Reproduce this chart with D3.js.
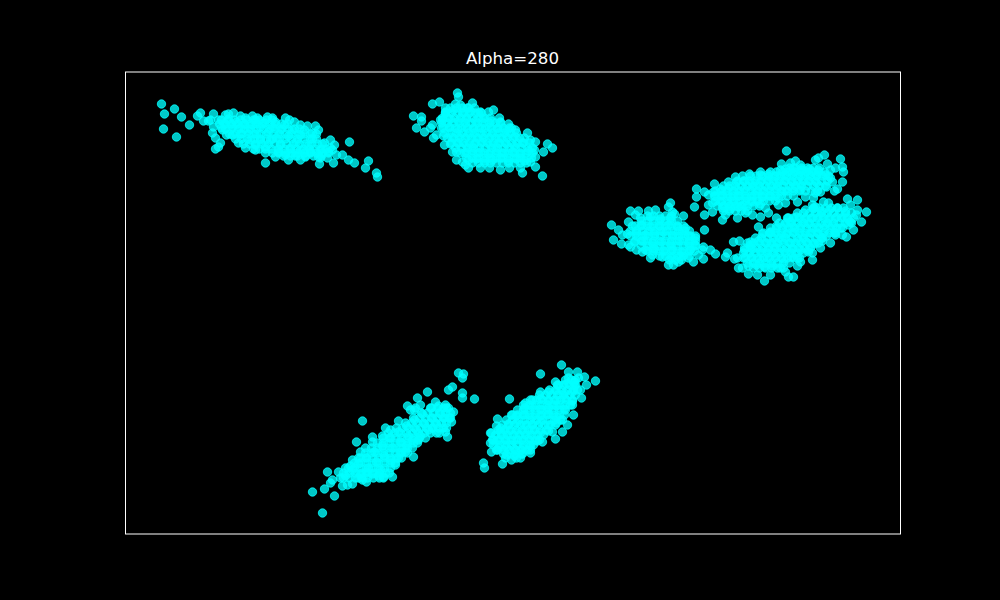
<!DOCTYPE html>
<html>
<head>
<meta charset="utf-8">
<script src="https://cdn.jsdelivr.net/npm/d3@7"></script>
<style>html,body{margin:0;padding:0;background:#000;overflow:hidden}</style>
</head>
<body>
<svg id="chart" width="1000" height="600"></svg>
<script>
const titleText = "Alpha=280";
const clusterA = [[36,430],[49,425],[39,420],[56,417],[64,409],[38,405],[51,397],[75,421],[72,418],[78,413],[88,420],[83,413],[87,401],[90,396],[95,391],[90,385],[93,387],[101,399],[113,391],[140,371],[163,374],[194,370],[209,389],[224,392],[243,373],[240,366],[251,361],[252,357],[229,371],[223,374],[217,379],[208,371],[202,376],[190,408],[182,408],[187,401],[169,412],[164,414],[147,416],[142,417],[132,416],[108,421],[100,419],
[93,414],[99,410],[103,415],[107,407],[111,412],[115,406],[119,410],[123,403],[127,409],[131,400],[135,407],[139,411],[143,402],[147,407],[151,396],[155,404],[159,409],[163,398],[167,404],[171,392],[175,399],[179,404],[183,388],[187,395],[191,400],[195,384],[199,391],[203,382],[175,384],[165,386],[155,389],[145,394],[135,394],[125,394],[115,400],[120,416],[130,414],[150,412],[185,382],[170,378],[153,382],[160,379],[180,377],[193,377],[205,386],[140,387],[130,389],[97,404],[107,399],
[85,414],[88,407],[96,406],[103,420],[115,418],[127,418],[160,416],[175,409],[193,404],[205,394],[207,384],[211,379],[195,376],[175,374],[150,377],[130,384],[120,386]];
const clusterB = [[332,441],[333,437],[314,432],[307,430],[330,430],[288,418],[296,417],[296,413],[291,406],[299,402],[305,406],[308,396],[368,424],[374,416],[383,410],[386,406],[402,401],[410,392],[422,390],[427,386],[418,382],[410,377],[410,367],[417,358],[397,361],[384,366],[364,366],[343,366],[337,372],[315,414],[320,421],[347,431],[355,422],[342,426],
[320,422],[328,424],[337,421],[345,423],[353,421],[317,414],[325,415],[333,413],[341,415],[350,413],[358,415],[366,413],
[316,406],[324,407],[332,405],[340,407],[348,405],[356,406],[364,407],[372,405],[380,404],
[318,398],[326,397],[334,399],[342,398],[350,397],[358,399],[366,398],[374,396],[382,399],[390,397],
[325,390],[333,391],[341,389],[349,390],[357,392],[365,389],[373,391],[381,390],[389,388],[397,391],
[331,382],[339,381],[347,383],[355,382],[363,380],[371,383],[379,381],[387,382],[395,380],[403,383],
[343,374],[351,375],[359,373],[367,374],[375,376],[383,373],[391,375],[399,373],
[307,409],[311,399],[319,389],[327,382],[331,374],[340,369],[355,366],[375,364],[395,366],[405,372],[409,384],[405,394],[390,404],[375,412],[363,422],[335,429],[320,426]];
const clusterC = [[545,331],[543,327],[505,323],[549,320],[558,318],[486,309],[493,304],[488,294],[496,290],[505,287],[579,304],[590,280],[585,284],[578,287],[578,275],[568,272],[573,279],[548,269],[553,272],[517,282],[527,279],[513,323],[523,323],
[515,316],[525,317],[535,315],[545,316],
[507,308],[516,309],[525,307],[534,308],[543,309],[552,307],
[502,300],[511,301],[520,299],[529,300],[538,302],[547,299],[556,300],[563,298],
[509,292],[518,293],[527,291],[536,292],[545,290],[554,293],[563,291],[570,289],
[520,284],[529,285],[538,283],[547,284],[556,282],[565,284],
[537,277],[546,276],[555,278],
[497,299],[503,312],[510,319],[530,324],[547,322],[560,306],[570,296],[577,284],[563,276],[543,269],[525,276],[511,284],[503,289]];
const clusterD = [[661,383],[656,370],[690,374],[693,376],[699,379],[715,375],[702,370],[710,366],[717,367],[718,362],[717,352],[712,345],[709,343],[705,356],[695,342],[571,345],[579,342],[571,337],[569,327],[579,319],[589,350],[588,342],[597,314],[612,316],[603,352],[624,360],[617,358],[627,319],[635,317],[643,321],[653,329],[672,332],[670,373],[665,371],
[587,331],[595,332],[603,330],[611,331],[619,329],[627,332],[635,330],
[589,338],[597,339],[605,337],[613,338],[621,336],[629,339],[637,337],[645,338],[653,336],
[595,345],[603,346],[611,344],[619,345],[627,347],[635,344],[643,346],[651,345],[659,343],[667,346],[675,344],
[611,352],[619,353],[627,351],[635,352],[643,354],[651,351],[659,353],[667,352],[675,350],[683,353],[691,351],
[635,359],[643,360],[651,358],[659,359],[667,361],[675,358],[683,360],[691,359],
[660,365],[668,366],[676,364],[684,365],[693,364],
[597,326],[605,325],[613,327],
[583,339],[583,329],[587,322],[600,319],[620,321],[610,357],[635,362],[655,364],[675,369],[700,359],[705,364],[707,352],[701,347],[690,341],[680,337],[660,331],[640,326]];
const clusterE = [[639,253],[668,257],[663,257],[632,259],[617,266],[609,275],[602,281],[600,277],[608,292],[614,293],[633,307],[651,316],[687,274],[687,281],[672,268],[722,335],[732,334],[741,322],[732,324],[736,312],[728,304],[721,297],[705,291],[695,286],[698,332],[688,336],[687,329],
[623,268],[631,269],[639,267],[647,268],[655,266],
[618,276],[626,277],[634,275],[642,276],[650,278],[658,275],[666,277],[674,276],
[619,284],[627,285],[635,283],[643,284],[651,286],[659,283],[667,285],[675,284],[683,282],
[625,292],[633,293],[641,291],[649,292],[657,294],[665,291],[673,293],[681,292],[689,290],[697,293],
[637,300],[645,301],[653,299],[661,300],[669,302],[677,299],[685,301],[693,300],[701,298],[709,301],[717,299],
[651,308],[659,309],[667,307],[675,308],[683,310],[691,307],[699,309],[707,308],[715,306],[723,309],
[663,316],[671,317],[679,315],[687,316],[695,318],[703,315],[711,317],[719,316],
[680,324],[688,325],[696,323],[704,324],[712,326],[720,323],
[612,276],[613,266],[623,260],[645,259],[660,262],[675,272],[683,284],[697,296],[710,299],[725,312],[731,319],[725,329],[703,331],[690,327],[665,312],[645,302],[625,289]];
const clusterF = [[197,21],[187,42],[209,38],[199,45],[202,62],[207,54],[205,51],[217,48],[237,113],[231,92],[282,128],[292,136],[302,142],[349,135],[337,141],[337,136],[333,161],[338,160],[337,156],[327,147],[323,144],[322,97],[321,106],[314,101],[288,77],[267,57],[258,57],[241,52],[227,50],[290,126],[325,116],
[220,58],[227,64],[233,70],[235,60],[241,76],[243,66],[249,82],[251,72],[247,60],[257,88],[259,78],[255,64],[265,96],[267,86],[265,74],[273,102],[275,92],[275,82],[281,108],[283,98],[281,88],[289,114],[291,104],[287,94],[297,120],[299,110],[295,98],[305,126],[307,116],[303,104],[313,128],[315,120],[311,110],[321,126],[319,116],[265,104],[247,92],[235,82],[227,74],[241,62],[233,56],[273,76],[220,66],[257,98],[289,124],
[215,56],[222,49],[213,62],[225,68],[233,76],[240,86],[247,97],[260,106],[273,113],[285,124],[295,129],[310,132],[320,129],[328,122],[326,112],[320,102],[307,106],[293,94],[280,82],[270,69],[253,58],[237,54]];
const clusterG = [[436,169],[415,160],[384,135],[470,153],[459,157],[461,149],[449,152],[452,162],[456,136],[448,119],[437,102],[430,95],[442,109],[405,81],[395,76],[386,74],[377,70],[359,66],[358,71],[366,82],[366,101],[372,115],[371,108],[365,91],
[443,156],[433,149],[441,150],[449,148],
[423,142],[431,143],[439,141],[447,142],
[407,134],[415,135],[423,133],[431,134],[439,136],[447,133],
[399,126],[407,127],[415,125],[423,126],[431,128],[439,125],
[391,118],[399,119],[407,117],[415,118],[423,120],[431,117],[439,119],
[383,110],[391,111],[399,109],[407,110],[415,112],[423,109],[431,111],
[375,102],[383,103],[391,101],[399,102],[407,104],[415,101],[423,103],
[372,94],[380,95],[388,93],[396,94],[404,96],[412,93],
[373,86],[381,87],[389,85],[397,86],[405,88],
[381,79],[389,78],[397,80],
[367,94],[365,101],[371,84],[380,76],[391,76],[405,84],[417,92],[427,102],[437,114],[447,129],[455,144],[453,156],[443,162],[430,152],[415,142],[400,131],[387,119],[375,106]];

// Dense cores, read as rows: [y, [x, x, ...]]
const coreA = [[414,[96,102,109,115,121,128,134,141,147]],[410,[94,100,106,112,119,125,131,137,144,150,156,162]],[405,[100,106,113,119,125,131,138,144,150,156,163,169,174]],[400,[104,110,116,123,129,135,141,148,154,160,166,173,179,185]],[395,[110,116,122,129,135,141,147,154,160,166,172,179,185,191]],[390,[118,124,130,136,143,149,155,161,168,174,180,186,192,197]],[385,[128,134,140,146,153,159,165,171,178,184,190,196,201]],[381,[140,147,153,160,166,172,179,185,191,197,203]],[378,[158,165,172,180,188,196]]];
const coreB = [[426,[325,331,337,343,349]],[421,[320,326,332,338,344,350,356]],[416,[317,323,329,335,341,347,353,359,365]],[411,[316,322,328,334,340,346,352,358,364,370,375]],[406,[318,324,330,336,342,348,354,360,366,372,378,384]],[401,[319,325,331,337,343,349,355,361,367,373,379,385,391]],[396,[322,328,334,340,346,352,358,364,370,376,382,388,394,399]],[391,[326,332,338,344,350,356,362,368,374,380,386,392,398,404]],[386,[330,336,342,348,354,360,366,372,378,384,390,396,402,407]],[381,[335,341,347,353,359,365,371,377,383,389,395,401,407]],[376,[341,347,353,359,365,371,377,383,389,395,401,406]],[371,[347,353,359,365,371,377,383,389,395,401]]];
const coreC = [[318,[522,528,534,540,546]],[313,[516,522,528,534,540,546,552]],[308,[510,516,522,528,534,540,546,552,558]],[303,[505,511,517,523,529,535,541,547,553,559,564]],[298,[505,511,517,523,529,535,541,547,553,559,565,570]],[293,[510,516,522,528,534,540,546,552,558,564,570]],[288,[516,522,528,534,540,546,552,558,564,570]],[283,[522,528,534,540,546,552,558,564,569]],[278,[534,540,546,552,558,564]],[274,[544,550,556]]];
const coreD = [[366,[664,670,676,682,688,694]],[362,[645,651,657,663,669,675,681,687,693,699]],[358,[625,631,637,643,649,655,661,667,673,679,685,691,697,703]],[353,[612,618,624,630,636,642,648,654,660,666,672,678,684,690,696,702]],[348,[598,604,610,616,622,628,634,640,646,652,658,664,670,676,682,688,694,700]],[343,[590,596,602,608,614,620,626,632,638,644,650,656,662,668,674,680,686,692]],[338,[590,596,602,608,614,620,626,632,638,644,650,656,662,668]],[333,[590,596,602,608,614,620,626,632,638,644,650]],[328,[592,598,604,610,616,622,628,634]],[323,[598,604,610,616,622]]];
const coreE = [[326,[688,694,700,706,712,718]],[321,[672,678,684,690,696,702,708,714,720,726]],[316,[662,668,674,680,686,692,698,704,710,716,722,728]],[311,[654,660,666,672,678,684,690,696,702,708,714,720,726]],[306,[645,651,657,663,669,675,681,687,693,699,705,711,717]],[301,[638,644,650,656,662,668,674,680,686,692,698,704,710]],[296,[630,636,642,648,654,660,666,672,678,684,690,696]],[291,[622,628,634,640,646,652,658,664,670,676,682,688,693]],[286,[619,625,631,637,643,649,655,661,667,673,679,685]],[281,[618,624,630,636,642,648,654,660,666,672,678]],[276,[620,626,632,638,644,650,656,662,668,672]],[271,[622,628,634,640,646,652,658,664]],[266,[628,634,640,646,652,658]]];
const coreF = [[126,[306,312,318,323]],[121,[296,302,308,314,320,325]],[116,[288,294,300,306,312,318,324]],[111,[280,286,292,298,304,310,316,321]],[106,[271,277,283,289,295,301,307,313,318]],[101,[263,269,275,281,287,293,299,305,311]],[96,[258,264,270,276,282,288,294,300]],[91,[252,258,264,270,276,282,288,292]],[86,[246,252,258,264,270,276,282,287]],[81,[240,246,252,258,264,270,276,282]],[76,[235,241,247,253,259,265,271,276]],[71,[229,235,241,247,253,259,265,270]],[66,[223,229,235,241,247,253,259,265]],[61,[218,224,230,236,242,248,254,260,264]],[56,[218,224,230,236,242,248,254,258]]];
const coreG = [[154,[440,446,450]],[149,[432,438,444,450]],[144,[424,430,436,442,448,452]],[139,[414,420,426,432,438,444,450]],[134,[405,411,417,423,429,435,441,447]],[129,[398,404,410,416,422,428,434,440,445]],[124,[392,398,404,410,416,422,428,434,440]],[119,[386,392,398,404,410,416,422,428,434]],[114,[381,387,393,399,405,411,417,423,429,435]],[109,[377,383,389,395,401,407,413,419,425,430]],[104,[373,379,385,391,397,403,409,415,421]],[99,[370,376,382,388,394,400,406,412,418]],[94,[368,374,380,386,392,398,404,410,414]],[89,[368,374,380,386,392,398,404,408]],[84,[372,378,384,390,396,402]],[80,[378,384,390,396]]];

const clusters = [clusterA, clusterB, clusterC, clusterD, clusterE, clusterF, clusterG];
const cores = [coreA, coreB, coreC, coreD, coreE, coreF, coreG];
const points = clusters.flat().concat(cores.flat().flatMap(([v, us]) => us.map(u => [u, v])));

const svg = d3.select("#chart");
const x = d3.scaleLinear().domain([0, 775]).range([125.5, 900.5]);
const y = d3.scaleLinear().domain([0, 462]).range([534, 72]);

svg.append("rect").attr("width", 1000).attr("height", 600).attr("fill", "#000");

svg.append("g").selectAll("circle").data(points).join("circle")
  .attr("cx", d => x(d[0]))
  .attr("cy", d => y(d[1]))
  .attr("r", 4.2)
  .attr("fill", "#00ffff").attr("fill-opacity", 0.78)
  .attr("stroke", "#00ffff").attr("stroke-opacity", 0.78).attr("stroke-width", 1);

svg.append("rect")
  .attr("x", x.range()[0]).attr("y", y.range()[1])
  .attr("width", x.range()[1] - x.range()[0])
  .attr("height", y.range()[0] - y.range()[1])
  .attr("fill", "none").attr("stroke", "#fff").attr("stroke-width", 1);

svg.append("text")
  .attr("x", (x.range()[0] + x.range()[1]) / 2 - 0.5).attr("y", 64)
  .attr("text-anchor", "middle")
  .attr("font-family", "DejaVu Sans").attr("font-size", 16.67)
  .attr("fill", "#fff").text(titleText);
</script>
</body>
</html>
